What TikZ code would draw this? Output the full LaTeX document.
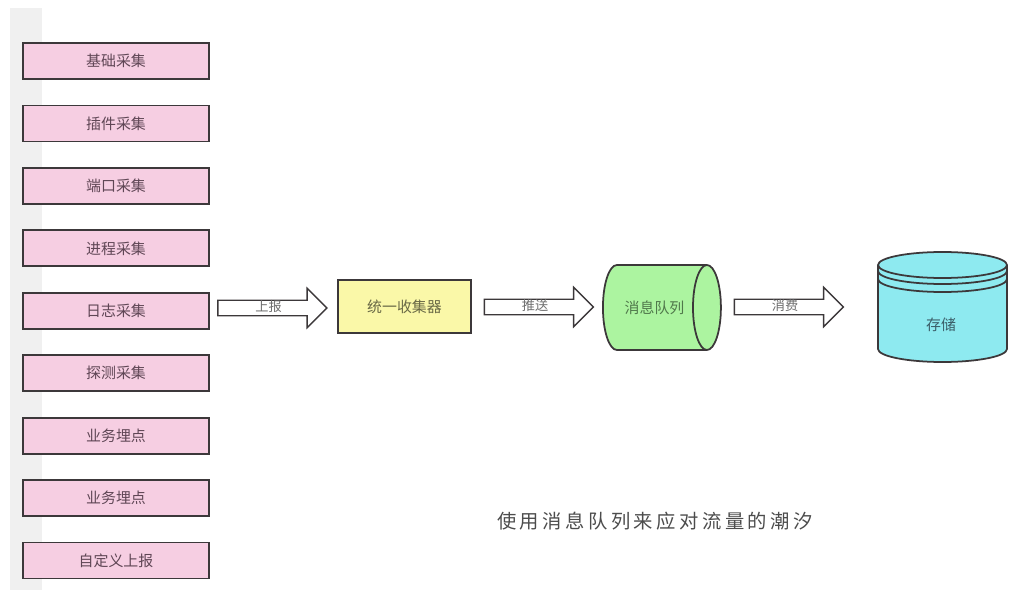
\documentclass[tikz,border=0pt]{standalone}
\usepackage{fontspec}
\newfontfamily\cjk{Noto Sans CJK SC}
\usetikzlibrary{shapes.arrows,shapes.geometric}
\definecolor{stripgray}{RGB}{240,240,240}
\definecolor{srcpink}{RGB}{246,206,226}
\definecolor{srctext}{RGB}{95,70,85}
\definecolor{boxline}{RGB}{60,56,58}
\definecolor{colyellow}{RGB}{250,248,168}
\definecolor{coltext}{RGB}{105,105,70}
\definecolor{mqgreen}{RGB}{172,244,160}
\definecolor{mqtext}{RGB}{80,120,75}
\definecolor{storecyan}{RGB}{142,234,240}
\definecolor{storetext}{RGB}{60,95,105}
\definecolor{arrtext}{RGB}{110,110,110}

\begin{document}
\begin{tikzpicture}[
  x=0.02cm, y=-0.02cm,
  font=\cjk\fontsize{8.5}{10}\selectfont,
  srcbox/.style={draw=boxline, line width=1pt, fill=srcpink, text=srctext,
              minimum width=3.72cm, minimum height=0.72cm, inner sep=0pt},
  collbox/.style={draw=boxline, line width=1pt, fill=colyellow, text=coltext,
              minimum width=2.66cm, minimum height=1.06cm, inner sep=0pt},
  mqbox/.style={cylinder, draw=boxline, line width=1pt, fill=mqgreen, text=mqtext,
              aspect=2, minimum width=1.7cm, minimum height=2.36cm, inner sep=0pt},
  flowarr/.style={single arrow, draw=boxline, line width=0.8pt, fill=white,
              text=arrtext, font=\cjk\fontsize{7.5}{8}\selectfont,
              minimum height=2.18cm, minimum width=0.76cm,
              single arrow head extend=0.24cm, inner xsep=0pt, inner ysep=0pt,
              text height=6pt, text depth=2pt},
  caption/.style={font=\cjk\fontsize{11}{13}\selectfont\addfontfeatures{LetterSpace=18},
              text=black!70}
]
\useasboundingbox (0,0) rectangle (1024,601);
\fill[white] (0,0) rectangle (1024,601);
\fill[stripgray] (10,8) rectangle (42,590);

% collection sources
\foreach \name [count=\i] in {基础采集,插件采集,端口采集,进程采集,日志采集,探测采集,业务埋点,业务埋点,自定义上报}
  \node[srcbox] (src\i) at (116,{61+62.44*(\i-1)}) {\name};

\node[collbox] (coll) at (404.5,306.5) {统一收集器};
\node[mqbox] (mq) at (654.5,307.5) {消息队列};

% storage
\fill[storecyan] (878,265) -- (878,349)
  arc[start angle=180, end angle=360, x radius=1.29cm, y radius=0.26cm] -- (1007,265) -- cycle;
\draw[boxline, line width=1pt] (878,265) -- (878,349)
  arc[start angle=180, end angle=360, x radius=1.29cm, y radius=0.26cm] -- (1007,265);
\draw[boxline, line width=1pt, fill=storecyan] (942.5,265) ellipse[x radius=1.29cm, y radius=0.26cm];
\draw[boxline, line width=1pt] (878,271) arc[start angle=180, end angle=360, x radius=1.29cm, y radius=0.26cm];
\draw[boxline, line width=1pt] (878,279) arc[start angle=180, end angle=360, x radius=1.29cm, y radius=0.26cm];
\node[text=storetext] (store) at (941,325) {存储};

% flows
\node[flowarr] (report) at (268.5,308) {上报};
\node[flowarr] (push) at (535,307) {推送};
\node[flowarr] (consume) at (785,307) {消费};

\node[caption] (note) at (655,521) {使用消息队列来应对流量的潮汐};
\end{tikzpicture}
\end{document}
